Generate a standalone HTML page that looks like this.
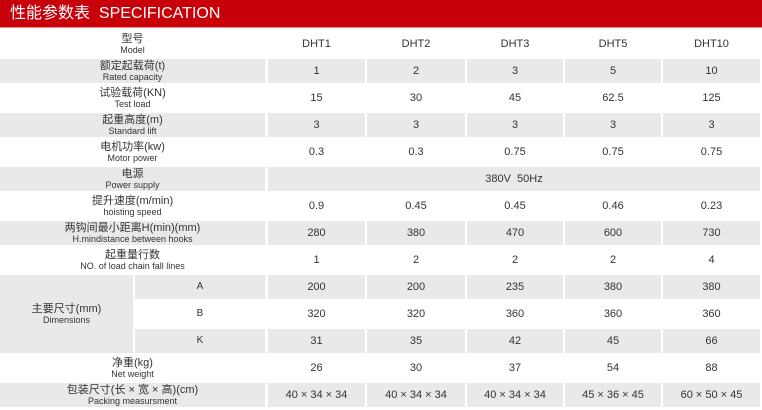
<!DOCTYPE html>
<html><head><meta charset="utf-8"><style>
body{margin:0;width:762px;height:410px;background:#fff;position:relative;overflow:hidden;font-family:"Liberation Sans","Noto Sans CJK SC",sans-serif;color:#333}
.h{position:absolute;left:0;top:0;width:762px;height:27px;background:#c8000a;border-bottom:1px solid #e88;color:#fff;font-size:16px;line-height:27px}
.h span{position:absolute;left:10px;top:0}
.c{position:absolute;display:flex;flex-direction:column;align-items:center;justify-content:center;text-align:center;font-size:11px;line-height:12px}
.g{background:#e8e9e9}
.c small{font-size:9px;line-height:10px}
</style></head><body>
<div class="h"><span>性能参数表&nbsp; SPECIFICATION</span></div>
<div id="t"></div>
<script>
var rows=[
[28,31,0,"型号","Model",["DHT1","DHT2","DHT3","DHT5","DHT10"]],
[59,24,1,"额定起载荷(t)","Rated capacity",["1","2","3","5","10"]],
[83,30,0,"试验载荷(KN)","Test load",["15","30","45","62.5","125"]],
[113,24,1,"起重高度(m)","Standard lift",["3","3","3","3","3"]],
[137,30,0,"电机功率(kw)","Motor power",["0.3","0.3","0.75","0.75","0.75"]],
[167,24,1,"电源","Power supply",null],
[191,30,0,"提升速度(m/min)","hoisting speed",["0.9","0.45","0.45","0.46","0.23"]],
[221,24,1,"两钩间最小距离H(min)(mm)","H.mindistance between hooks",["280","380","470","600","730"]],
[245,30,0,"起重量行数","NO. of load chain fall lines",["1","2","2","2","4"]],
[275,24,1,null,"A",["200","200","235","380","380"]],
[299,30,0,null,"B",["320","320","360","360","360"]],
[329,24,1,null,"K",["31","35","42","45","66"]],
[353,30,0,"净重(kg)","Net weight",["26","30","37","54","88"]],
[383,24,1,"包装尺寸(长 × 宽 × 高)(cm)","Packing measursment",["40 × 34 × 34","40 × 34 × 34","40 × 34 × 34","45 × 36 × 45","60 × 50 × 45"]]
];
var cols=[[268,97],[367,98],[467,96],[565,96],[663,97]];
var h="";
function cell(x,y,w,hh,g,inner){h+='<div class="c'+(g?' g':'')+'" style="left:'+x+'px;top:'+y+'px;width:'+w+'px;height:'+hh+'px">'+inner+'</div>';}
rows.forEach(function(r){
 if(r[3]===null){cell(135,r[0],130,r[1],r[2],'<small style="font-size:10px">'+r[4]+'</small>');}
 else cell(0,r[0],265,r[1],r[2],'<div>'+r[3]+'</div><small>'+r[4]+'</small>');
 if(r[5]) r[5].forEach(function(v,i){cell(cols[i][0],r[0],cols[i][1],r[1],r[2],v);});
 else cell(268,r[0],492,r[1],r[2],'380V&nbsp; 50Hz');
});
cell(0,275,133,78,1,'<div>主要尺寸(mm)</div><small>Dimensions</small>');
document.getElementById('t').innerHTML=h;
</script>
</body></html>
